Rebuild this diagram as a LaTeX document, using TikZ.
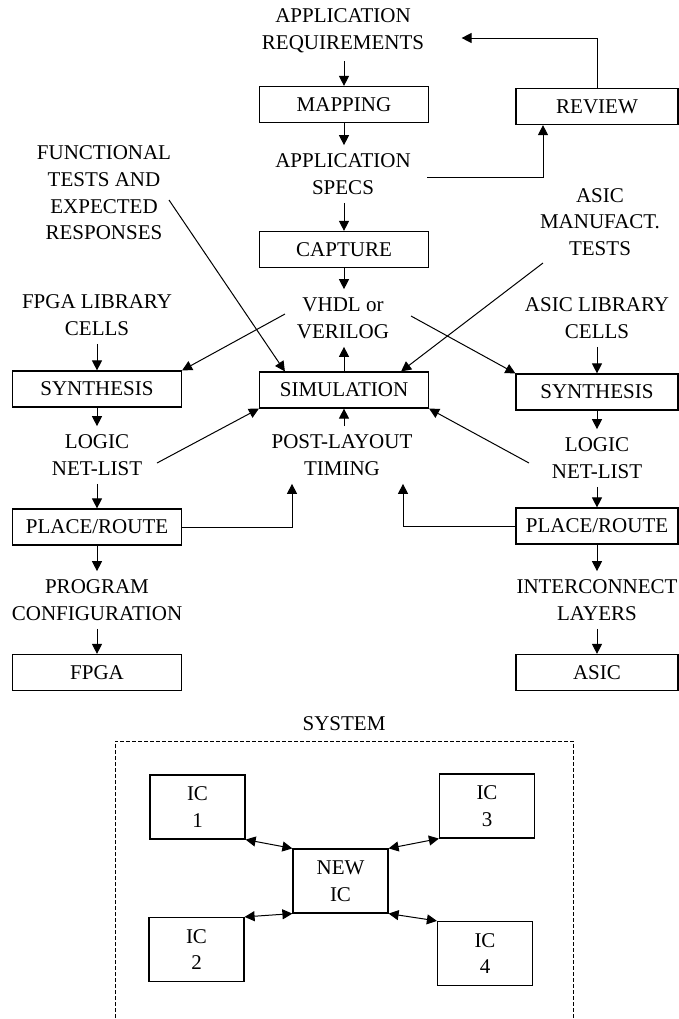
\documentclass[tikz,border=0pt]{standalone}
\usepackage{fontspec}
\setmainfont{Liberation Serif}
\usetikzlibrary{arrows.meta,calc}

\begin{document}
\begin{tikzpicture}[x=0.5pt, y=-0.5pt, line width=0.5pt,
    font=\fontsize{10.5}{13.3}\selectfont,
    >={Triangle[length=5pt,width=5pt]},
    txt/.style={align=center, inner sep=4pt},
    blk/.style={draw, line width=0.6pt, minimum width=84.5pt, minimum height=18pt, inner sep=2pt},
    blkr/.style={blk, minimum width=81pt},
    chip/.style={draw, line width=0.6pt, align=center, minimum width=47.5pt, minimum height=32pt, inner sep=2pt}]
  \clip (0,0) rectangle (679,1019);

  % Coordinates
  \coordinate (funtail) at (169,200);
  \coordinate (manutail) at (543,263);
  \coordinate (vhdlL) at (285,314);
  \coordinate (vhdlR) at (411,316);
  \coordinate (netLtail) at (157,463);
  \coordinate (netRtail) at (529,463);

  % Centre column
  \node[txt] (req) at (343,31) {APPLICATION\\REQUIREMENTS};
  \node[blk] (map) at (344,104.5) {MAPPING};
  \node[txt] (spec) at (343,174) {APPLICATION\\SPECS};
  \node[blk] (cap) at (344,249.5) {CAPTURE};
  \node[txt] (vhdl) at (343,318) {VHDL or\\VERILOG};
  \node[blk] (sim) at (344,390) {SIMULATION};
  \node[txt] (timing) at (342,455) {POST-LAYOUT\\TIMING};
  \node[blkr] (rev) at (597,106.5) {REVIEW};

  % Left column
  \node[txt] (fun) at (104,193) {FUNCTIONAL\\TESTS AND\\EXPECTED\\RESPONSES};
  \node[txt] (fpgalib) at (97,315) {FPGA LIBRARY\\CELLS};
  \node[blk] (synL) at (97,389) {SYNTHESIS};
  \node[txt] (netL) at (97,455) {LOGIC\\NET-LIST};
  \node[blk] (plL) at (97,527) {PLACE/ROUTE};
  \node[txt] (prog) at (97,600) {PROGRAM\\CONFIGURATION};
  \node[blk] (fpga) at (97,672.5) {FPGA};

  % Right column
  \node[txt] (manu) at (600,222) {ASIC\\MANUFACT.\\TESTS};
  \node[txt] (asiclib) at (597,318) {ASIC LIBRARY\\CELLS};
  \node[blkr] (synR) at (597,392) {SYNTHESIS};
  \node[txt] (netR) at (597,458) {LOGIC\\NET-LIST};
  \node[blkr] (plR) at (597,526) {PLACE/ROUTE};
  \node[txt] (inter) at (597,600) {INTERCONNECT\\LAYERS};
  \node[blkr] (asic) at (597,672.5) {ASIC};

  % Flow
  \draw[->] (req.south -| map) -- (map);
  \draw[->] (map) -- (map |- spec.north);
  \draw[->] (spec.south -| cap) -- (cap);
  \draw[->] (cap) -- (cap |- vhdl.north);
  \draw[->] (sim) -- (sim |- vhdl.south);
  \draw[->] (timing.north -| sim) -- (sim);
  \draw[->] (rev.north) |- ($(req.east)+(29,7)$);
  \draw[->] ($(spec.east)+(8,3)$) -| ($(rev.south)+(-54,0)$);
  \draw[->] (funtail) -- ($(sim.north west)+(26,0)$);
  \draw[->] (manutail) -- ($(sim.north east)+(-28,0)$);
  \draw[->] (vhdlL) -- (synL.north east);
  \draw[->] (vhdlR) -- (synR.north west);
  \draw[->] (netLtail) -- (sim.south west);
  \draw[->] (netRtail) -- (sim.south east);
  \draw[->] (fpgalib) -- (synL);
  \draw[->] (synL) -- (netL);
  \draw[->] (netL) -- (plL);
  \draw[->] (plL) -- (prog);
  \draw[->] (prog) -- (fpga);
  \draw[->] (asiclib) -- (synR);
  \draw[->] (synR) -- (netR);
  \draw[->] (netR) -- (plR);
  \draw[->] (plR) -- (inter);
  \draw[->] (inter) -- (asic);
  \draw[->] (plL.east) -| ($(timing.south)+(-50,0)$);
  \draw[->] (plR.west) -| ($(timing.south)+(61,0)$);

  % System
  \node (sys) at (344,724) {SYSTEM};
  \draw[dashed, dash pattern=on 2pt off 1pt] (115,1030) |- (573,741) -- (573,1030);
  \node[chip] (ic1) at (197.5,807) {IC\\1};
  \node[chip] (ic3) at (487,806) {IC\\3};
  \node[chip] (newic) at (340.5,881) {NEW\\IC};
  \node[chip] (ic2) at (196.5,949.5) {IC\\2};
  \node[chip] (ic4) at (485,953.5) {IC\\4};
  \draw[<->] (ic1.south east) -- (newic.north west);
  \draw[<->] (ic3.south west) -- (newic.north east);
  \draw[<->] (ic2.north east) -- (newic.south west);
  \draw[<->] (ic4.north west) -- (newic.south east);
\end{tikzpicture}
\end{document}
